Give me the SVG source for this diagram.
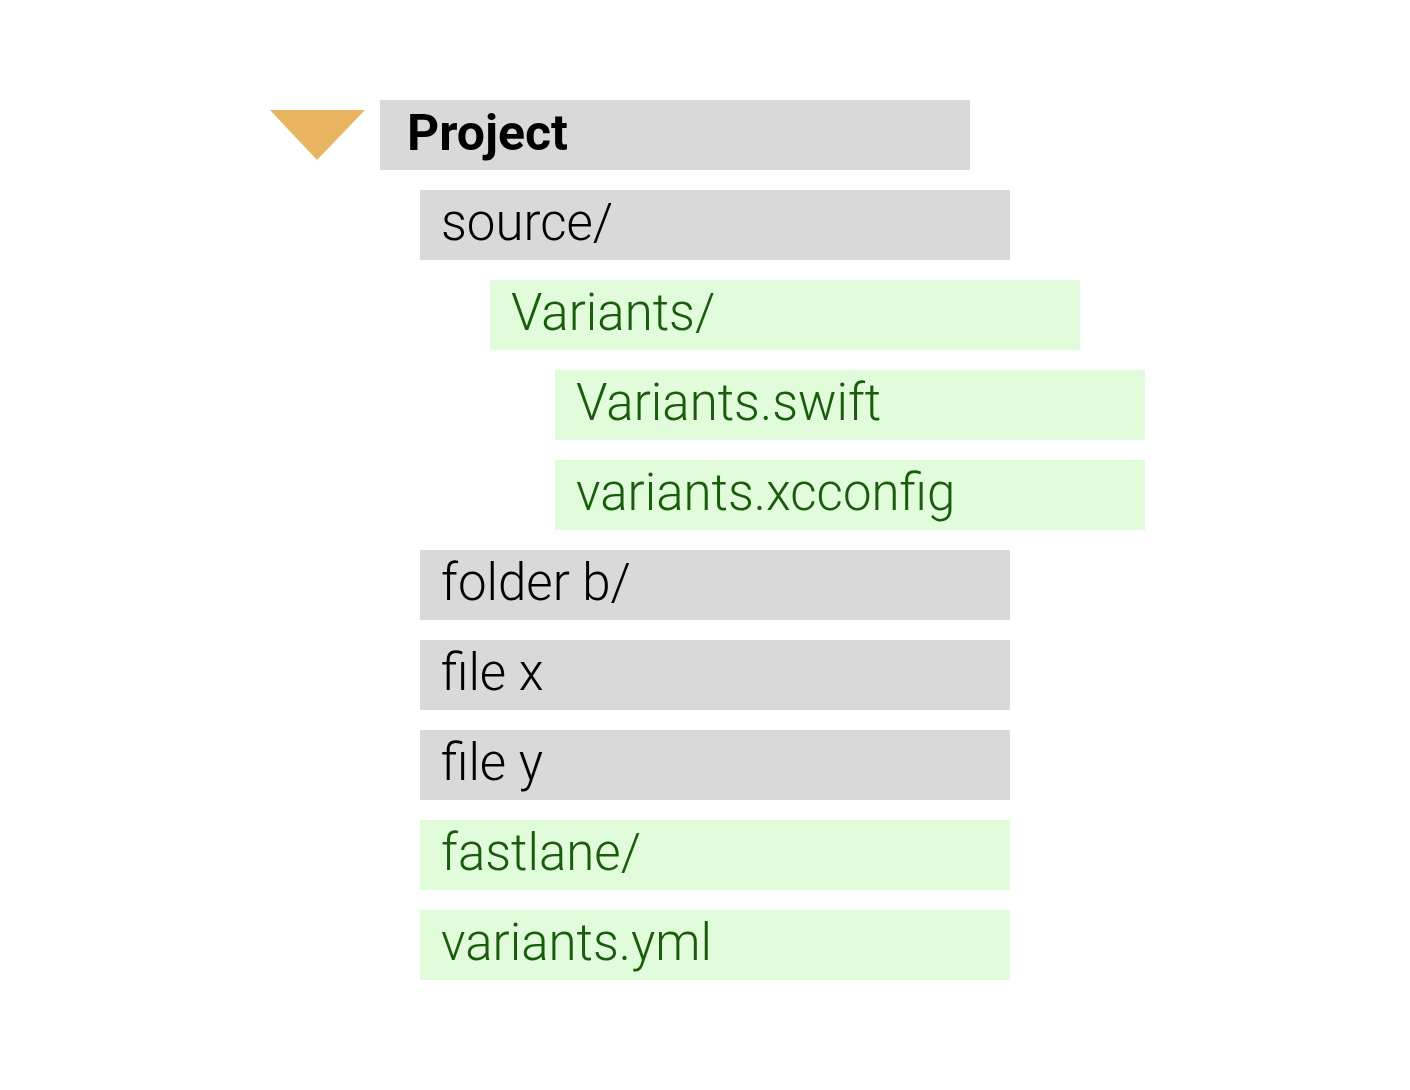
<svg xmlns="http://www.w3.org/2000/svg" width="1410" height="1090" viewBox="0 0 1410 1090">
  <style>
    .gray { fill: #d9d9d9; }
    .green { fill: #e1fcda; }
    .label { font-family: Roboto, "Liberation Sans", sans-serif; font-weight: 300; font-size: 51px; fill: #000000; }
    .label.g { fill: #1a5c0e; }
    .title { font-family: Roboto, "Liberation Sans", sans-serif; font-weight: 700; font-size: 50px; fill: #000000; }
  </style>
  <rect width="1410" height="1090" fill="#ffffff"/>
  <g id="toggle">
    <polygon points="270,110 365,110 317,160" fill="#e9b45f"/>
  </g>
  <g id="project">
    <rect class="gray" x="380" y="100" width="590" height="70"/>
    <text class="title" x="407" y="150">Project</text>
  </g>
  <g id="source">
    <rect class="gray" x="420" y="190" width="590" height="70"/>
    <text class="label" x="441" y="240">source/</text>
  </g>
  <g id="variants-dir">
    <rect class="green" x="490" y="280" width="590" height="70"/>
    <text class="label g" x="511" y="330">Variants/</text>
  </g>
  <g id="variants-swift">
    <rect class="green" x="555" y="370" width="590" height="70"/>
    <text class="label g" x="576" y="420">Variants.swift</text>
  </g>
  <g id="variants-xcconfig">
    <rect class="green" x="555" y="460" width="590" height="70"/>
    <text class="label g" x="576" y="510">variants.xcconfig</text>
  </g>
  <g id="folder-b">
    <rect class="gray" x="420" y="550" width="590" height="70"/>
    <text class="label" x="441" y="600">folder b/</text>
  </g>
  <g id="file-x">
    <rect class="gray" x="420" y="640" width="590" height="70"/>
    <text class="label" x="441" y="690">file x</text>
  </g>
  <g id="file-y">
    <rect class="gray" x="420" y="730" width="590" height="70"/>
    <text class="label" x="441" y="780">file y</text>
  </g>
  <g id="fastlane">
    <rect class="green" x="420" y="820" width="590" height="70"/>
    <text class="label g" x="441" y="870">fastlane/</text>
  </g>
  <g id="variants-yml">
    <rect class="green" x="420" y="910" width="590" height="70"/>
    <text class="label g" x="441" y="960">variants.yml</text>
  </g>
  <g id="connectors"/>
</svg>
